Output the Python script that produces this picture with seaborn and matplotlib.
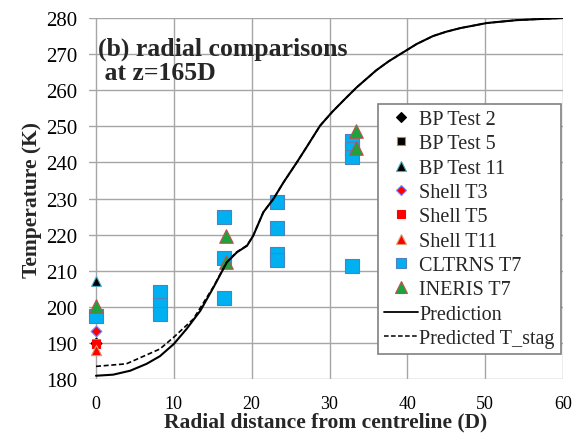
import numpy as np
import pandas as pd
import matplotlib
matplotlib.use("Agg")
import matplotlib.pyplot as plt
import seaborn as sns
from matplotlib.lines import Line2D

# ---- data ----
bp2_x = [0.0]; bp2_y = [190.0]
bp5_x = [0.0]; bp5_y = [190.0]
bp11_x = [0.0]; bp11_y = [207.2]
sh3_x = [0.0]; sh3_y = [193.4]
sh5_x = [0.0]; sh5_y = [189.6]
sh11_x = [0.0]; sh11_y = [188.1]
cl_x = [0.0, 8.2, 8.2, 8.2, 16.5, 16.5, 16.5, 23.2, 23.2, 23.2, 23.2, 32.9, 32.9, 32.9, 32.9]
cl_y = [197.5, 204.0, 200.5, 198.0, 224.9, 213.5, 202.5, 229.1, 221.7, 214.5, 213.0, 246.0, 243.7, 241.5, 211.3]
in_x = [0.0, 16.7, 16.7, 33.4, 33.4]
in_y = [200.2, 219.7, 212.3, 248.7, 244.0]

pred_x = [0, 2.2, 4.4, 6.5, 8.2, 10, 11.65, 13.4, 15.1, 16.8, 18.1, 19.4, 20.2, 21.5,
          22.8, 24.1, 25.8, 26.9, 28.8, 30.4, 32.0, 33.5, 36.0, 37.6, 39.1, 41.2, 43.3, 45.0,
          46.8, 50.2, 54.0, 57.9, 60]
pred_y = [180.9, 181.2, 182.3, 184.2, 186.3, 189.7, 193.9, 198.9, 205.4, 212.3, 215.1, 216.9,
          219.7, 226.2, 229.9, 234.5, 240.0, 243.7, 250.2, 254.1, 257.6, 260.8, 265.5, 268.0,
          270.0, 272.8, 275.0, 276.2, 277.2, 278.6, 279.4, 279.8, 280.0]
stag_x = [0, 3.9, 8.2, 10, 12.5, 15.1, 16.8, 18.1, 19.4, 20.2, 21.5, 22.8, 24.1, 25.8, 26.9,
          28.8, 30.4, 32.0, 33.5, 36.0, 37.6, 39.1, 41.2, 43.3, 45.0, 46.8, 50.2, 54.0, 57.9, 60]
stag_y = [183.5, 184.2, 188.3, 191.6, 196.6, 205.6, 212.4, 215.2, 217.0, 219.7, 226.2, 229.9,
          234.5, 240.0, 243.7, 250.2, 254.1, 257.6, 260.8, 265.5, 268.0, 270.0, 272.8, 275.0,
          276.2, 277.2, 278.6, 279.4, 279.8, 280.0]

xticks = [0, 10, 20, 30, 40, 50, 60]
yticks = [180, 190, 200, 210, 220, 230, 240, 250, 260, 270, 280]

sns.set_style("white")
plt.rcParams['font.family'] = ['Liberation Serif', 'DejaVu Serif']

fig = plt.figure(figsize=(5.86, 4.35), dpi=100)
ax = fig.add_axes([89/586, 1-380/435, (563-89)/586, (380-19)/435])

series = [
    ("BP Test 2", bp2_x, bp2_y, "D", "black", "black", 30, 5),
    ("BP Test 5", bp5_x, bp5_y, "s", "black", "#E07B20", 38, 5.5),
    ("BP Test 11", bp11_x, bp11_y, "^", "black", "#4BACC6", 50, 6.5),
    ("Shell T3", sh3_x, sh3_y, "D", "#FF0000", "#8080FF", 30, 5),
    ("Shell T5", sh5_x, sh5_y, "s", "#FF0000", "#FF0000", 38, 5.5),
    ("Shell T11", sh11_x, sh11_y, "^", "#FF0000", "#D8A070", 55, 6.5),
    ("CLTRNS T7", cl_x, cl_y, "s", "#00B0F0", "#4F81BD", 95, 7.5),
    ("INERIS T7", in_x, in_y, "^", "#1BA33C", "#C0504D", 95, 8),
]
handles = []
for i, (lab, xs, ys, mk, fc, ec, s, msz) in enumerate(series):
    df = pd.DataFrame({"x": xs, "y": ys})
    sns.scatterplot(data=df, x="x", y="y", marker=mk, color=fc, edgecolor=ec,
                    linewidth=0.8, s=s, ax=ax, zorder=3 + i, clip_on=False)
    handles.append(Line2D([], [], marker=mk, color='none', markerfacecolor=fc,
                          markeredgecolor=ec, markeredgewidth=0.8, markersize=msz, label=lab))

sns.lineplot(x=pred_x, y=pred_y, color="black", lw=1.5, ax=ax, zorder=20)
sns.lineplot(x=stag_x, y=stag_y, color="black", lw=1.2, ls=(0, (3, 1.6)), ax=ax, zorder=19)
handles.append(Line2D([], [], color="black", lw=1.3, label="Prediction"))
handles.append(Line2D([], [], color="black", lw=1.1, ls=(0, (3, 1.6)), label="Predicted T_stag"))

ax.set_xlim(-0.9, 60)
ax.set_ylim(180, 280)
ax.set_xticks(xticks)
ax.set_yticks(yticks)
ax.grid(True, color="#A6A6A6", lw=1.0)
for sp in ax.spines.values():
    sp.set_visible(False)
ax.tick_params(axis='both', length=0, colors='black')
ax.tick_params(axis='x', pad=11.5, labelsize=13)
ax.tick_params(axis='y', pad=8.5, labelsize=15)

ax.set_xlabel("Radial distance from centreline (D)", fontsize=15.5, fontweight='bold', labelpad=0)
ax.set_ylabel("Temperature (K)", fontsize=15.5, fontweight='bold', labelpad=3)

ax.text(0.3, 268.3, "(b) radial comparisons\n at z=165D", fontsize=18.5, fontweight='bold',
        ha='left', va='center', linespacing=1.05, zorder=30)

leg = ax.legend(handles=handles, loc='upper left', bbox_to_anchor=((378-89)/474, 1-(105-19)/361),
                fontsize=14.5, frameon=True, fancybox=False, borderpad=0.3, labelspacing=0.26,
                handlelength=1.7, handletextpad=0.05, borderaxespad=0)
leg.get_frame().set_edgecolor("#808080")
leg.get_frame().set_linewidth(1.2)
leg.get_frame().set_alpha(1)
leg.set_zorder(40)

fig.savefig("out.png", dpi=100)
